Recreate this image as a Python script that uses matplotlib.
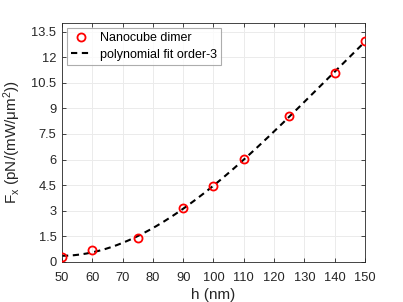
import numpy as np
import matplotlib
matplotlib.use("Agg")
import matplotlib.pyplot as plt

h = [50, 60, 75, 90, 100, 110, 125, 140, 150]
fx = [0.31, 0.70, 1.38, 3.19, 4.44, 6.01, 8.54, 11.10, 12.92]
xticks = [50, 60, 70, 80, 90, 100, 110, 120, 130, 140, 150]
yticks = [0, 1.5, 3, 4.5, 6, 7.5, 9, 10.5, 12, 13.5]
ytick_labels = ["0", "1.5", "3", "4.5", "6", "7.5", "9", "10.5", "12", "13.5"]

plt.rcParams['font.family'] = ['Liberation Sans', 'DejaVu Sans']
plt.rcParams['mathtext.fontset'] = 'custom'
plt.rcParams['mathtext.rm'] = 'Liberation Sans'
plt.rcParams['mathtext.it'] = 'Liberation Sans'

fig = plt.figure(figsize=(4.03, 3.02), dpi=100)
ax = fig.add_axes([0.1538, 0.1325, 0.7519, 0.7913])

coef = np.polyfit(h, fx, 3)
hf = np.linspace(min(h), max(h), 200)
ax.plot(h, fx, 'o', mfc='none', mec='red', mew=1.3, ms=5.8, label='Nanocube dimer', zorder=3)
ax.plot(hf, np.polyval(coef, hf), '--', color='black', lw=1.5, dashes=(3, 2.2), label='polynomial fit order-3', zorder=2)

ax.set_xlim(50, 150)
ax.set_ylim(0, 14)
ax.set_xticks(xticks)
ax.set_yticks(yticks)
ax.set_yticklabels(ytick_labels)
ax.grid(True, color='#ebebeb', lw=0.7)
ax.set_axisbelow(True)
ac = '#262626'
for s in ax.spines.values():
    s.set_color(ac)
    s.set_linewidth(0.6)
ax.tick_params(direction='in', top=True, right=True, length=3, width=0.6, colors=ac, labelsize=9.3)
ax.tick_params(axis='x', pad=7)
ax.tick_params(axis='y', pad=4)
ax.set_xlabel('h (nm)', fontsize=11, color=ac, labelpad=3)
ax.set_ylabel('F$_\\mathregular{x}$ (pN/(mW/μm$^\\mathregular{2}$))', fontsize=11, color=ac, labelpad=6)

leg = ax.legend(loc='upper left', fontsize=9, frameon=True, fancybox=False, edgecolor='#999999',
                borderpad=0.35, handlelength=1.5, handletextpad=0.8, borderaxespad=0.4, labelspacing=0.35)
leg.get_frame().set_linewidth(0.8)

fig.savefig('out.png', dpi=100)
